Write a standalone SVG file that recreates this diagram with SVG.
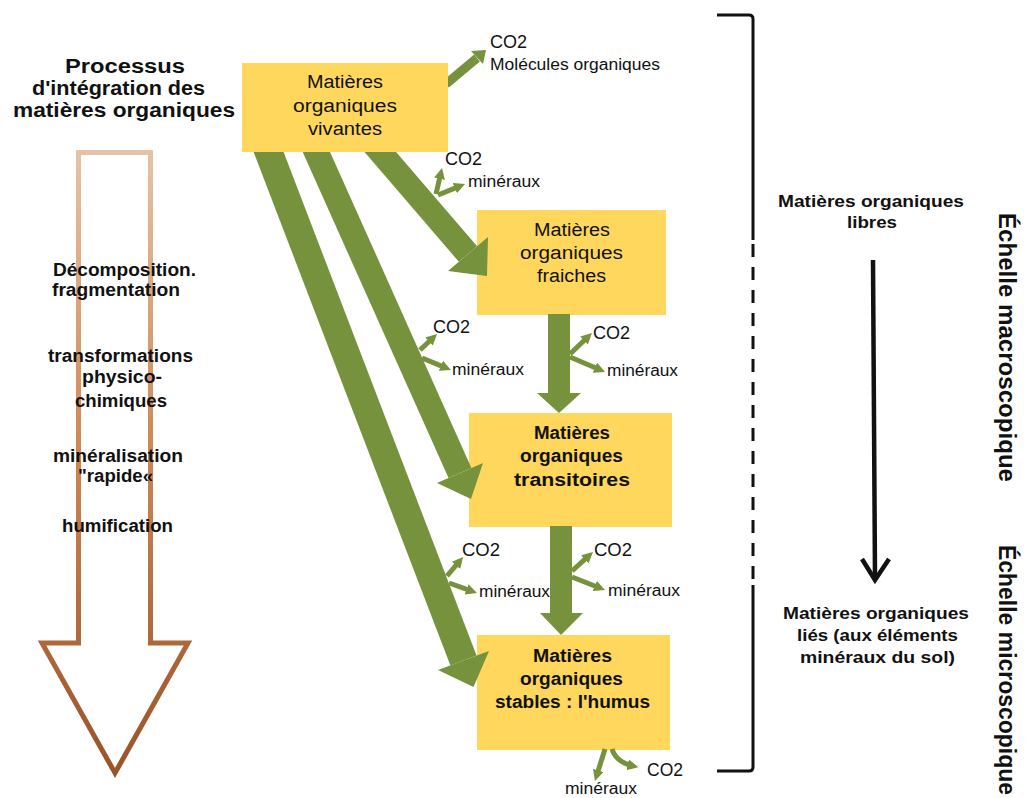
<svg xmlns="http://www.w3.org/2000/svg" width="1025" height="798" viewBox="0 0 1025 798">
<style>
.box{fill:#FFD75C}
.t{font-family:"Liberation Sans",Arial,sans-serif;fill:#111}
.b{font-weight:bold}
.g{fill:#76923C}
.br{stroke:#76923C;stroke-width:5;fill:none;marker-end:url(#h)}
</style>
<defs>
<marker id="h" viewBox="0 0 10 10" refX="5" refY="5" markerWidth="11" markerHeight="11" markerUnits="userSpaceOnUse" orient="auto">
<path d="M0,0 L10,5 L0,10 z" fill="#76923C"/>
</marker>
<linearGradient id="lg" gradientUnits="userSpaceOnUse" x1="0" y1="150" x2="0" y2="775">
<stop offset="0" stop-color="#E6C3A6"/>
<stop offset="0.45" stop-color="#D08A55"/>
<stop offset="1" stop-color="#9A5228"/>
</linearGradient>
</defs>
<rect width="1025" height="798" fill="#fff"/>

<g id="title">
<text class="t b" x="65" y="73" font-size="20" textLength="120" lengthAdjust="spacingAndGlyphs">Processus</text>
<text class="t b" x="32" y="95" font-size="20" textLength="173" lengthAdjust="spacingAndGlyphs">d'intégration des</text>
<text class="t b" x="13" y="117" font-size="20" textLength="222" lengthAdjust="spacingAndGlyphs">matières organiques</text>
</g>

<g id="process-arrow">
<polygon points="78.5,152.5 150.5,152.5 150.5,643 188,643 115,773 42,643 78.5,643" fill="none" stroke="url(#lg)" stroke-width="5" stroke-linejoin="miter"/>
<text class="t b" x="53" y="276" font-size="18" textLength="143" lengthAdjust="spacingAndGlyphs">Décomposition.</text>
<text class="t b" x="52" y="296" font-size="18" textLength="128" lengthAdjust="spacingAndGlyphs">fragmentation</text>
<text class="t b" x="48" y="362" font-size="18" textLength="145" lengthAdjust="spacingAndGlyphs">transformations</text>
<text class="t b" x="82" y="383" font-size="18" textLength="80" lengthAdjust="spacingAndGlyphs">physico-</text>
<text class="t b" x="75" y="407" font-size="18" textLength="92" lengthAdjust="spacingAndGlyphs">chimiques</text>
<text class="t b" x="53" y="462" font-size="18" textLength="130" lengthAdjust="spacingAndGlyphs">minéralisation</text>
<text class="t b" x="78" y="482" font-size="18" textLength="75" lengthAdjust="spacingAndGlyphs">"rapide«</text>
<text class="t b" x="62" y="532" font-size="18" textLength="111" lengthAdjust="spacingAndGlyphs">humification</text>
</g>

<g id="n2">
<rect class="box" x="477" y="210" width="189" height="105"/>
<text class="t" x="534" y="236" font-size="18" textLength="76" lengthAdjust="spacingAndGlyphs">Matières</text>
<text class="t" x="520" y="259" font-size="18" textLength="103" lengthAdjust="spacingAndGlyphs">organiques</text>
<text class="t" x="537" y="282" font-size="18" textLength="69" lengthAdjust="spacingAndGlyphs">fraiches</text>
</g>
<g id="n3">
<rect class="box" x="469" y="413" width="203" height="114"/>
<text class="t b" x="534" y="439" font-size="18" textLength="76" lengthAdjust="spacingAndGlyphs">Matières</text>
<text class="t b" x="520" y="462" font-size="18" textLength="103" lengthAdjust="spacingAndGlyphs">organiques</text>
<text class="t b" x="514" y="486" font-size="18" textLength="116" lengthAdjust="spacingAndGlyphs">transitoires</text>
</g>
<g id="n4">
<rect class="box" x="477" y="635" width="193" height="115"/>
<text class="t b" x="533" y="662" font-size="18" textLength="79" lengthAdjust="spacingAndGlyphs">Matières</text>
<text class="t b" x="520" y="685" font-size="18" textLength="103" lengthAdjust="spacingAndGlyphs">organiques</text>
<text class="t b" x="495" y="708" font-size="18" textLength="155" lengthAdjust="spacingAndGlyphs">stables : l'humus</text>
</g>

<g id="connectors">
<line x1="370" y1="140" x2="468" y2="254" stroke="#76923C" stroke-width="24"/>
<polygon class="g" points="488,237 448,271 487,276"/>
<line x1="311" y1="140" x2="460" y2="473" stroke="#76923C" stroke-width="25"/>
<polygon class="g" points="483,463 437,483 471,499"/>
<line x1="264" y1="140" x2="463.5" y2="660.6" stroke="#76923C" stroke-width="28"/>
<polygon class="g" points="489,651 438,670 473.5,687"/>
<polygon class="g" points="548,314 570,314 570,393 581,393 559,413 537,393 548,393"/>
<polygon class="g" points="550,526 572,526 572,613 583,613 561,635 540,613 550,613"/>
<line x1="446" y1="84" x2="477" y2="58" stroke="#76923C" stroke-width="9"/>
<polygon class="g" points="483,64 471,51 486,50"/>
<line class="br" x1="436" y1="194" x2="440.8" y2="173.4"/>
<line class="br" x1="438" y1="195" x2="459.9" y2="186.1"/>
<line class="br" x1="420" y1="350" x2="433" y2="337.8"/>
<line class="br" x1="422" y1="358" x2="445.9" y2="367.9"/>
<line class="br" x1="570" y1="354" x2="588" y2="336.8"/>
<line class="br" x1="570" y1="357" x2="600" y2="369.8"/>
<line class="br" x1="447" y1="576" x2="459.5" y2="561.2"/>
<line class="br" x1="449" y1="583" x2="471.8" y2="591.2"/>
<line class="br" x1="572" y1="571" x2="588.9" y2="555.7"/>
<line class="br" x1="572" y1="577" x2="599.9" y2="588"/>
<line class="br" x1="605" y1="749" x2="596.6" y2="775.7"/>
<path class="br" d="M612,749 Q616,762 633,766"/>
</g>

<g id="n1">
<rect class="box" x="242" y="63" width="206" height="89"/>
<text class="t" x="307" y="88" font-size="18" textLength="76" lengthAdjust="spacingAndGlyphs">Matières</text>
<text class="t" x="293" y="112" font-size="18" textLength="104" lengthAdjust="spacingAndGlyphs">organiques</text>
<text class="t" x="308" y="135" font-size="18" textLength="74" lengthAdjust="spacingAndGlyphs">vivantes</text>
</g>

<g id="labels">
<text class="t" x="490" y="48" font-size="18" textLength="37" lengthAdjust="spacingAndGlyphs">CO2</text>
<text class="t" x="490" y="70" font-size="16" textLength="170" lengthAdjust="spacingAndGlyphs">Molécules organiques</text>
<text class="t" x="445" y="165" font-size="18" textLength="37" lengthAdjust="spacingAndGlyphs">CO2</text>
<text class="t" x="468" y="187" font-size="16" textLength="72" lengthAdjust="spacingAndGlyphs">minéraux</text>
<text class="t" x="433" y="333" font-size="18" textLength="37" lengthAdjust="spacingAndGlyphs">CO2</text>
<text class="t" x="452" y="375" font-size="16" textLength="72" lengthAdjust="spacingAndGlyphs">minéraux</text>
<text class="t" x="593" y="339" font-size="18" textLength="37" lengthAdjust="spacingAndGlyphs">CO2</text>
<text class="t" x="607" y="376" font-size="16" textLength="71" lengthAdjust="spacingAndGlyphs">minéraux</text>
<text class="t" x="462" y="556" font-size="18" textLength="38" lengthAdjust="spacingAndGlyphs">CO2</text>
<text class="t" x="479" y="597" font-size="16" textLength="71" lengthAdjust="spacingAndGlyphs">minéraux</text>
<text class="t" x="594" y="556" font-size="18" textLength="38" lengthAdjust="spacingAndGlyphs">CO2</text>
<text class="t" x="608" y="596" font-size="16" textLength="72" lengthAdjust="spacingAndGlyphs">minéraux</text>
<text class="t" x="647" y="776" font-size="18" textLength="36" lengthAdjust="spacingAndGlyphs">CO2</text>
<text class="t" x="565" y="794" font-size="16" textLength="72" lengthAdjust="spacingAndGlyphs">minéraux</text>
</g>

<g id="scale">
<path d="M717,15 L749,15 Q753,15 753,19 L753,240 M753,585 L753,767 Q753,771 749,771 L717,771" fill="none" stroke="#111" stroke-width="3"/>
<line x1="753" y1="244" x2="753" y2="585" stroke="#111" stroke-width="3" stroke-dasharray="13 10"/>
<text class="t b" x="778" y="207" font-size="17" textLength="186" lengthAdjust="spacingAndGlyphs">Matières organiques</text>
<text class="t b" x="847" y="228" font-size="17" textLength="50" lengthAdjust="spacingAndGlyphs">libres</text>
<line x1="873" y1="260" x2="875" y2="578" stroke="#111" stroke-width="4.5"/>
<polyline points="862,559 875,580 889,559" fill="none" stroke="#111" stroke-width="4.5"/>
<text class="t b" x="783" y="619" font-size="17" textLength="186" lengthAdjust="spacingAndGlyphs">Matières organiques</text>
<text class="t b" x="797" y="641" font-size="17" textLength="161" lengthAdjust="spacingAndGlyphs">liés (aux éléments</text>
<text class="t b" x="800" y="663" font-size="17" textLength="155" lengthAdjust="spacingAndGlyphs">minéraux du sol)</text>
<text class="t b" transform="translate(999,213) rotate(90)" font-size="23" textLength="269" lengthAdjust="spacingAndGlyphs">Échelle macroscopique</text>
<text class="t b" transform="translate(999,545) rotate(90)" font-size="23" textLength="250" lengthAdjust="spacingAndGlyphs">Échelle microscopique</text>
</g>
</svg>
